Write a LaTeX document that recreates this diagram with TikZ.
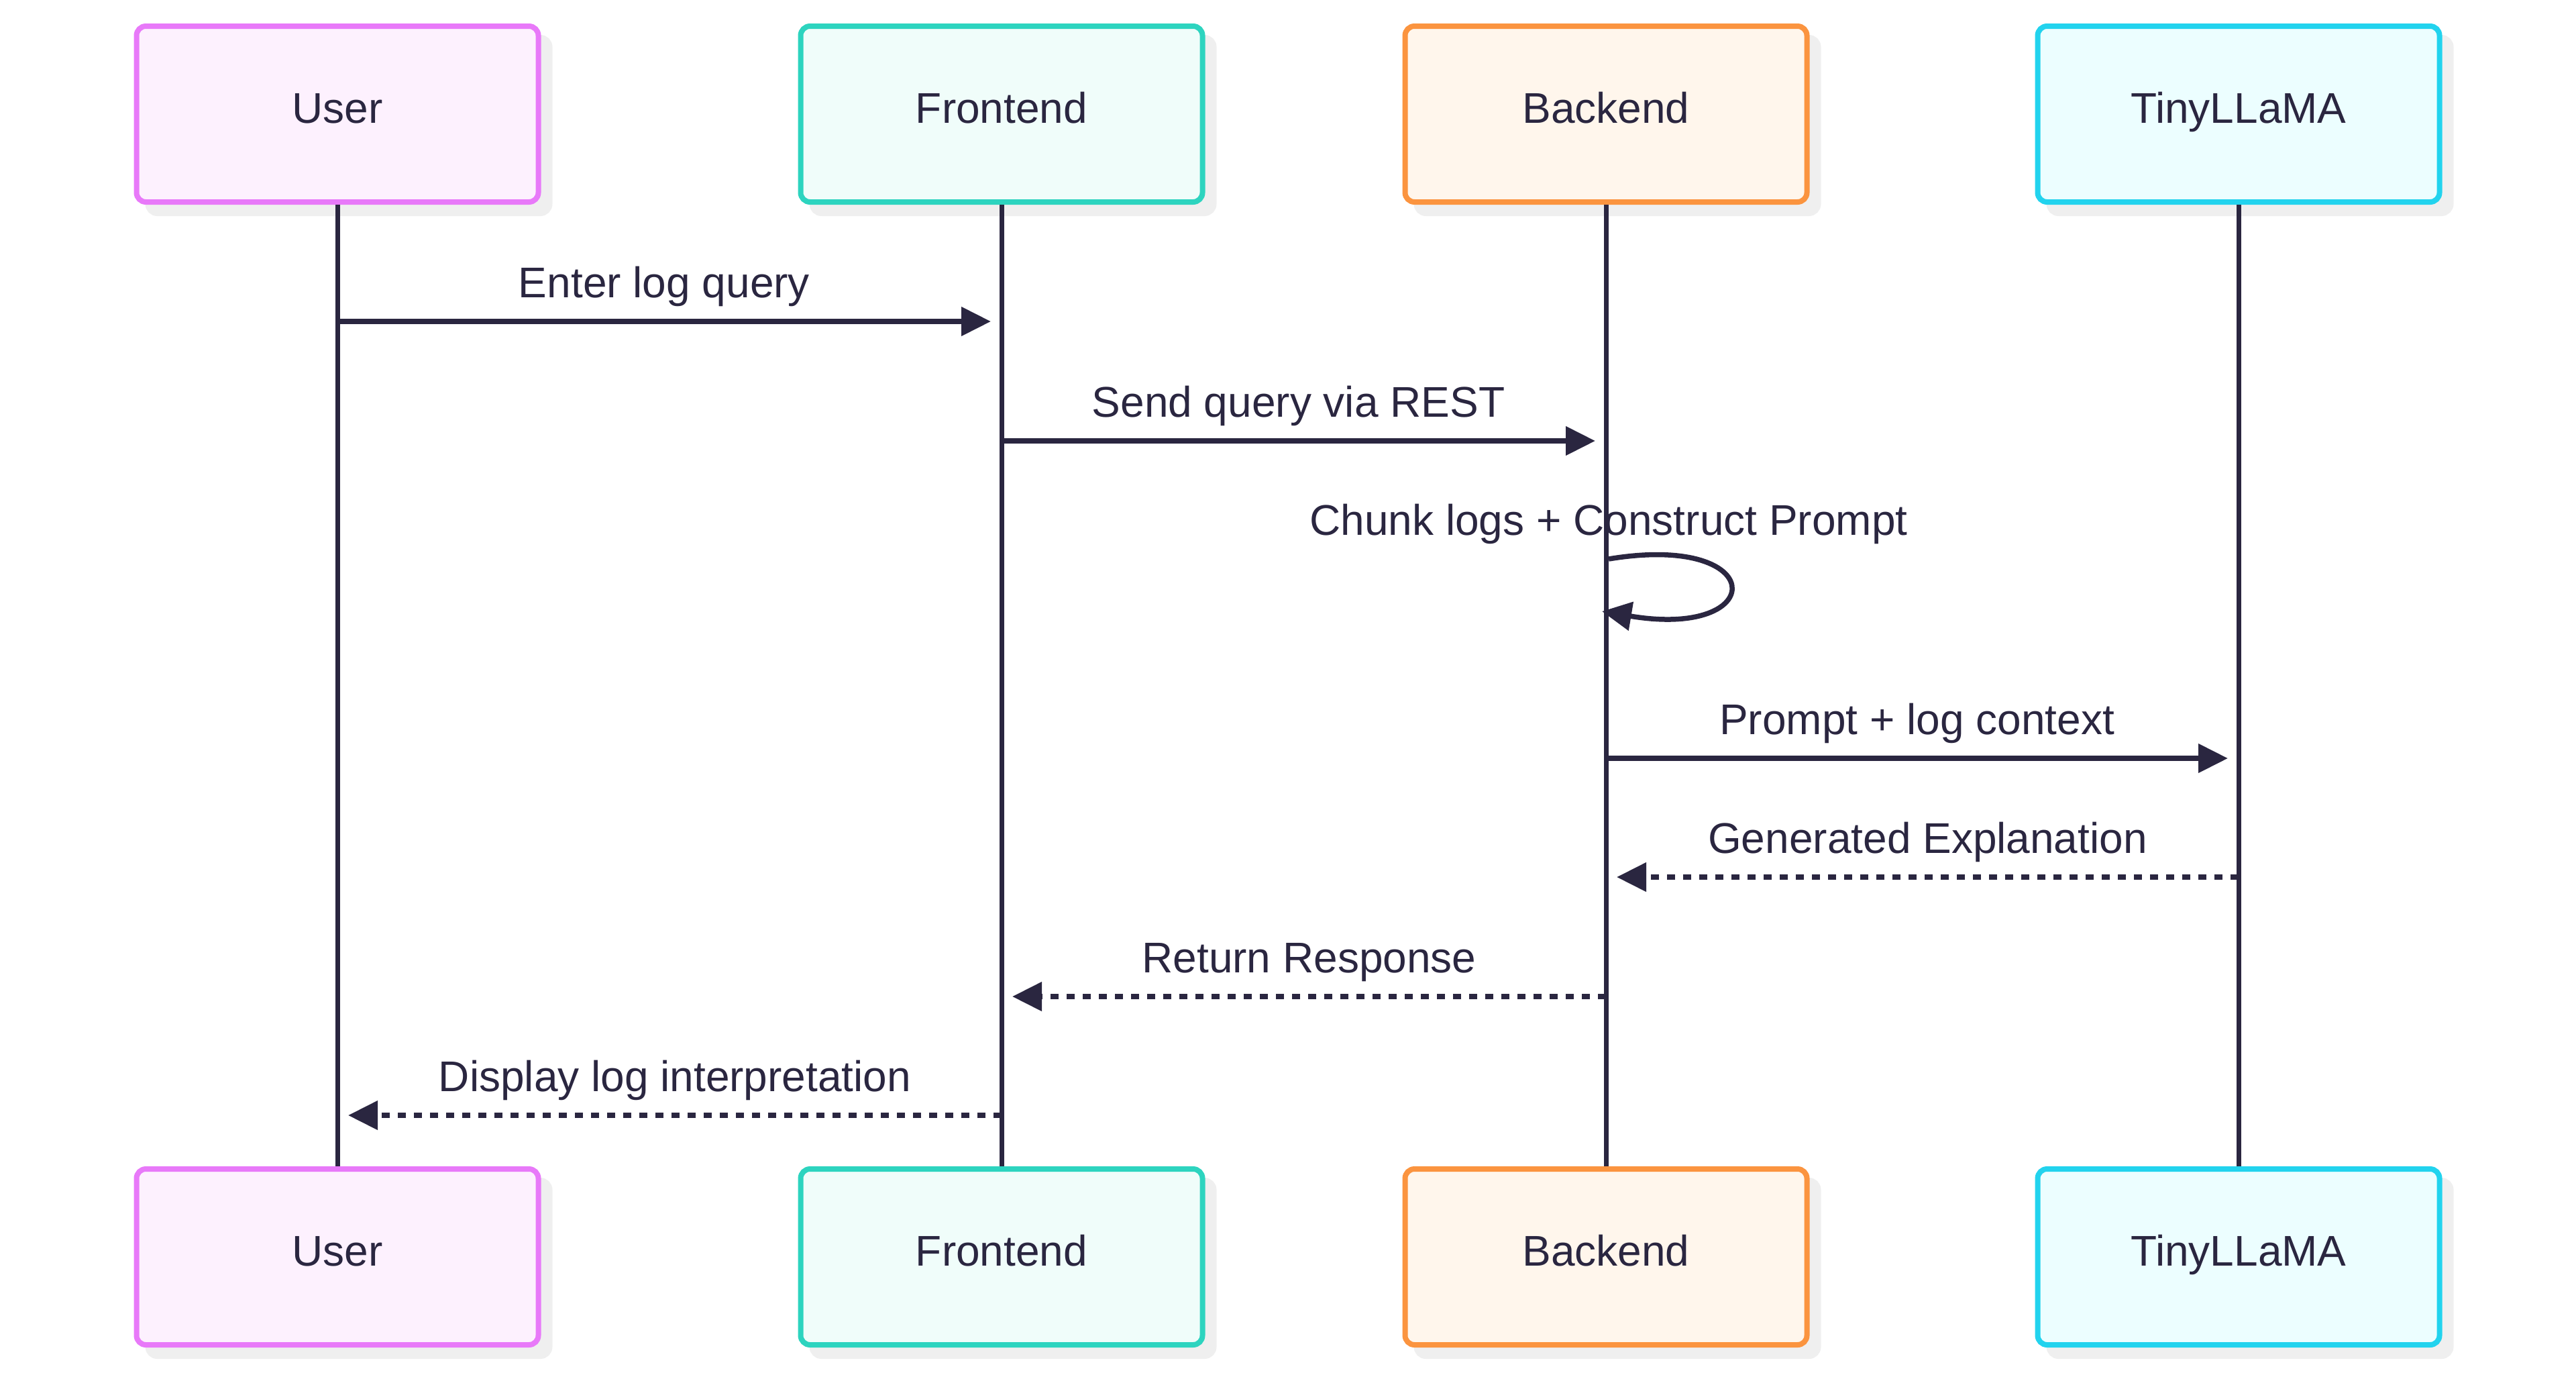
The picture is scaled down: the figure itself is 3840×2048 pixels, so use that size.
\documentclass[tikz,border=0pt]{standalone}
\usepackage{fontspec}
\setmainfont{Liberation Sans}
\usetikzlibrary{arrows.meta,shadows}
\definecolor{ink}{HTML}{2A2640}
\definecolor{shadowgray}{HTML}{EFEFEF}
\definecolor{userline}{HTML}{E879F9}
\definecolor{userfill}{HTML}{FDF1FE}
\definecolor{frontline}{HTML}{2DD4BF}
\definecolor{frontfill}{HTML}{F0FDFA}
\definecolor{backline}{HTML}{FB943F}
\definecolor{backfill}{HTML}{FFF6EC}
\definecolor{llmline}{HTML}{22D3EE}
\definecolor{llmfill}{HTML}{ECFEFF}
\begin{document}
\begin{tikzpicture}[x=1pt,y=-1pt,
  actor/.style={rounded corners=14pt, line width=8pt, minimum width=599pt,
    minimum height=262pt, inner sep=0pt, text=ink,
    font=\fontsize{64pt}{76pt}\selectfont, text height=46pt, text depth=20pt,
    general shadow={fill=shadowgray, draw=shadowgray, shadow xshift=17pt, shadow yshift=-17pt}},
  life/.style={draw=ink, line width=7pt},
  msg/.style={draw=ink, line width=7.5pt, -{Triangle[length=44pt,width=42pt]}},
  reply/.style={msg, dash pattern=on 12pt off 12pt},
  lbl/.style={text=ink, font=\fontsize{64pt}{76pt}\selectfont, anchor=base, inner sep=0pt}
]
\useasboundingbox (0,0) rectangle (3840,2048);

% actors top
\node[actor, draw=userline, fill=userfill] (uT) at (503,170) {User};
\node[actor, draw=frontline, fill=frontfill] (fT) at (1493,170) {Frontend};
\node[actor, draw=backline, fill=backfill] (bT) at (2394,170) {Backend};
\node[actor, draw=llmline, fill=llmfill] (tT) at (3337,170) {TinyLLaMA};
% actors bottom
\node[actor, draw=userline, fill=userfill] (uB) at (503,1873) {User};
\node[actor, draw=frontline, fill=frontfill] (fB) at (1493,1873) {Frontend};
\node[actor, draw=backline, fill=backfill] (bB) at (2394,1873) {Backend};
\node[actor, draw=llmline, fill=llmfill] (tB) at (3337,1873) {TinyLLaMA};

% lifelines
\draw[life] (uT.south) -- (uB.north);
\draw[life] (fT.south) -- (fB.north);
\draw[life] (bT.south) -- (bB.north);
\draw[life] (tT.south) -- (tB.north);

% message endpoints
\coordinate (m1s) at (503,479);   \coordinate (m1e) at (1477,479);
\coordinate (m2s) at (1493,657);  \coordinate (m2e) at (2378,657);
\coordinate (sls) at (2398,833);  \coordinate (sle) at (2388,911);
\coordinate (m3s) at (2394,1130); \coordinate (m3e) at (3321,1130);
\coordinate (m4s) at (3337,1307); \coordinate (m4e) at (2410,1307);
\coordinate (m5s) at (2394,1485); \coordinate (m5e) at (1509,1485);
\coordinate (m6s) at (1493,1662); \coordinate (m6e) at (519,1662);

\draw[msg] (m1s) -- node[lbl, pos=0.5, yshift=36pt] (l1) {Enter log query} (m1e);
\draw[msg] (m2s) -- node[lbl, pos=0.5, yshift=36pt] (l2) {Send query via REST} (m2e);
\draw[msg] (sls) .. controls (2638,793) and (2638,953) .. (sle);
\node[lbl] (ls) at (2398,797) {Chunk logs + Construct Prompt};
\draw[msg] (m3s) -- node[lbl, pos=0.5, yshift=36pt] (l3) {Prompt + log context} (m3e);
\draw[reply] (m4s) -- node[lbl, pos=0.5, yshift=36pt] (l4) {Generated Explanation} (m4e);
\draw[reply] (m5s) -- node[lbl, pos=0.5, yshift=36pt] (l5) {Return Response} (m5e);
\draw[reply] (m6s) -- node[lbl, pos=0.5, yshift=36pt] (l6) {Display log interpretation} (m6e);
\end{tikzpicture}
\end{document}
